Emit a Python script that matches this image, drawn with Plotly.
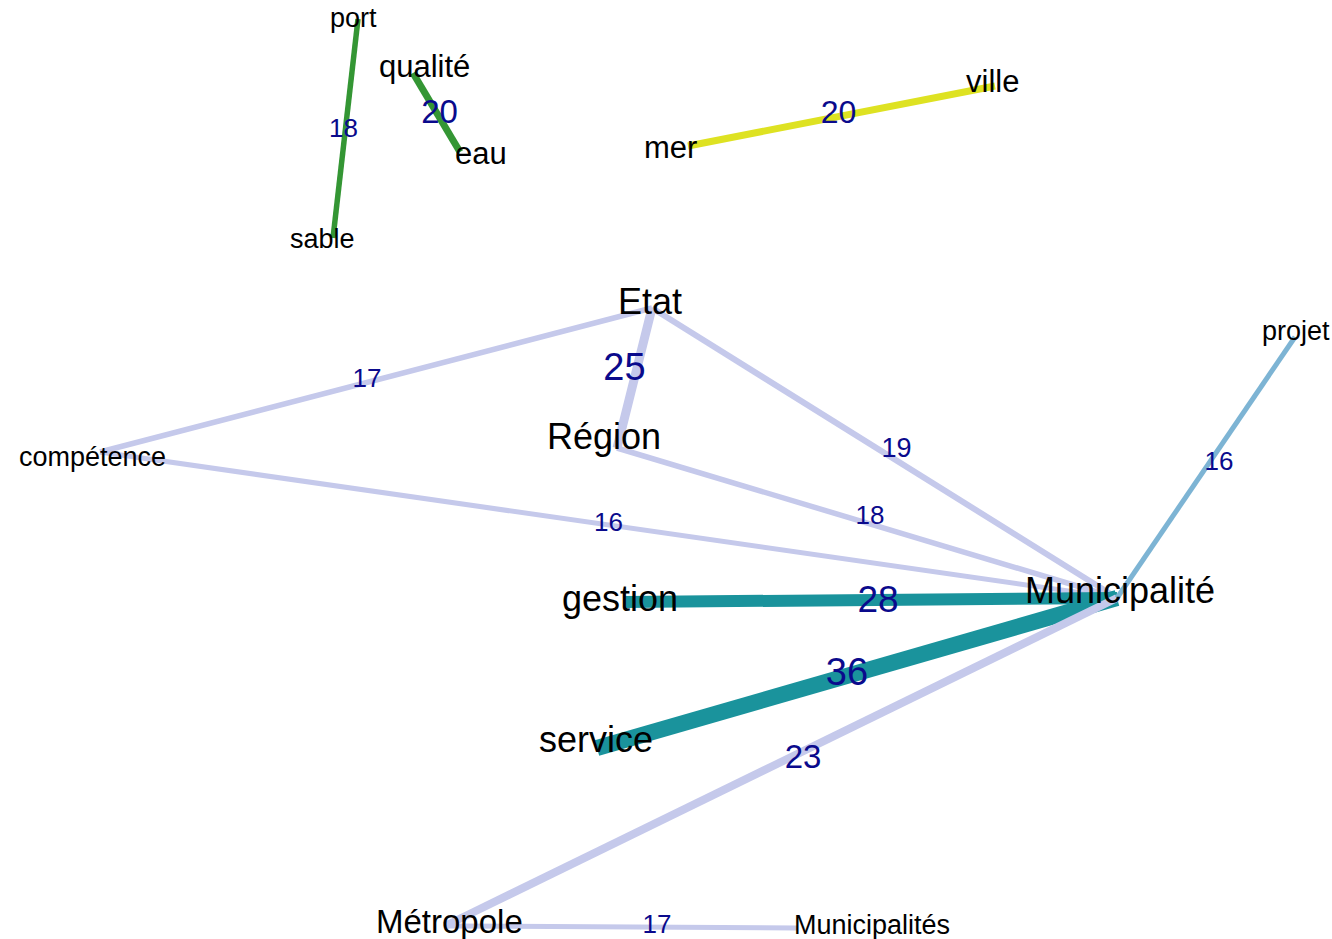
import plotly.graph_objects as go

# ---- data: nodes (layout coordinates) ----
node_names = ["port", "sable", "qualité", "eau", "mer", "ville", "Etat", "Région",
              "compétence", "Municipalité", "projet", "gestion", "service",
              "Métropole", "Municipalités"]
node_x = [358, 333, 413, 460, 688, 995, 652, 617, 100, 1117, 1295, 625, 597, 445, 797]
node_y = [19, 238, 73, 152, 146, 86, 308, 448, 452, 598, 337, 602, 748, 926, 928]

# ---- data: edges (co-occurrence counts) ----
edge_src = ["port", "qualité", "mer", "Etat", "Etat", "Etat", "Région", "compétence",
            "gestion", "service", "Métropole", "Métropole", "Municipalité"]
edge_dst = ["sable", "eau", "ville", "Région", "compétence", "Municipalité", "Municipalité",
            "Municipalité", "Municipalité", "Municipalité", "Municipalité", "Municipalités", "projet"]
edge_weight = [18, 20, 20, 25, 17, 19, 18, 16, 28, 36, 23, 17, 16]

# ---- styles ----
label_size = [27, 27, 31, 31, 31, 31, 36, 36, 27, 36, 27, 36, 36, 33, 27]
label_dx = [-5, -11, 11, 21, -18, -3, -2, -13, -8, 3, 1, -5, -1, 4, 75]
label_dy = [-1, 1, -7, 1, 1, -5, -7, -12, 5, -8, -6, -4, -9, -5, -3]

GREEN = "rgb(52,150,52)"
YELLOW = "rgb(222,226,34)"
LAV = "rgb(197,201,235)"
TEAL = "rgb(26,147,156)"
LBLUE = "rgb(125,180,212)"
edge_color = [GREEN, GREEN, YELLOW, LAV, LAV, LAV, LAV, LAV, TEAL, TEAL, LAV, LAV, LBLUE]
edge_width = [5.5, 7, 7, 9, 5.5, 6, 5.5, 5, 12, 16, 8, 5, 5]
edge_label_size = [26, 33, 32, 38, 26, 27, 26, 26, 37, 38, 33, 26, 26]
edge_label_dx = [-2, 3, -3, -10, -9, 12, 3, 0, 7, -10, 22, 36, 13]
edge_label_dy = [2, 2, -1, -8, 0, -3, -6, -1, 3, 2, -2, -1, -4]

idx = {n: i for i, n in enumerate(node_names)}

fig = go.Figure()
mx, my = [], []
for k, (s, d, c, lw) in enumerate(zip(edge_src, edge_dst, edge_color, edge_width)):
    i, j = idx[s], idx[d]
    fig.add_trace(go.Scatter(x=[node_x[i], node_x[j]], y=[node_y[i], node_y[j]],
                             mode="lines", line=dict(color=c, width=lw),
                             hoverinfo="skip", showlegend=False))
    mx.append((node_x[i] + node_x[j]) / 2 + edge_label_dx[k])
    my.append((node_y[i] + node_y[j]) / 2 + edge_label_dy[k])

# edge weight labels
fig.add_trace(go.Scatter(x=mx, y=my, mode="text", text=[str(w) for w in edge_weight],
                         textfont=dict(family="Liberation Sans, Arial", color="rgb(10,10,140)",
                                       size=edge_label_size),
                         hoverinfo="skip", showlegend=False))

# node labels
for n, x, y, sz, dx, dy in zip(node_names, node_x, node_y, label_size, label_dx, label_dy):
    fig.add_annotation(x=x, y=y, text=n, showarrow=False, xshift=dx, yshift=-dy,
                       xanchor="center", yanchor="middle",
                       font=dict(family="Liberation Sans, Arial", color="black", size=sz))

fig.update_layout(width=1332, height=939, margin=dict(l=0, r=0, t=0, b=0),
                  plot_bgcolor="white", paper_bgcolor="white",
                  xaxis=dict(range=[0, 1332], visible=False, fixedrange=True),
                  yaxis=dict(range=[939, 0], visible=False, fixedrange=True))

fig.write_html("out.html", config={"displayModeBar": False},
               post_script="document.body.style.margin='0';document.body.style.overflow='hidden';")
